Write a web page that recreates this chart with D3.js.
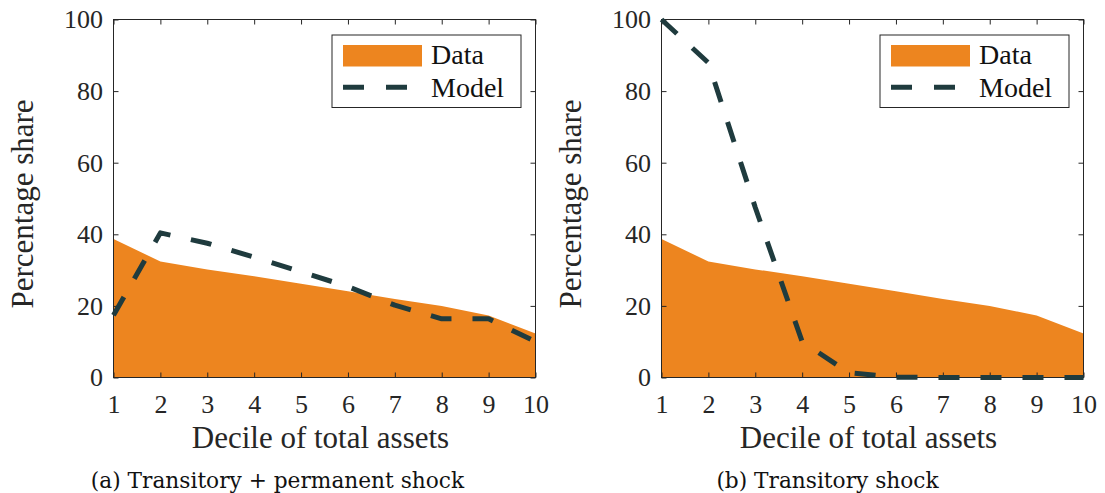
<!DOCTYPE html>
<html>
<head>
<meta charset="utf-8">
<script src="https://cdn.jsdelivr.net/npm/d3@7"></script>
<style>
  html, body { margin: 0; padding: 0; background: #fff; }
  svg { display: block; }
</style>
</head>
<body>
<svg id="fig" width="1105" height="493"></svg>
<script>
// Deciles of total assets (x axis)
const deciles = [1, 2, 3, 4, 5, 6, 7, 8, 9, 10];
// Observed percentage share by decile (shaded area, same in both panels)
const dataShare = [38.7, 32.4, 30.2, 28.3, 26.2, 24.1, 21.9, 20.0, 17.3, 12.3];
// Model share, transitory + permanent shock
const modelTransPerm = [17.4, 40.4, 37.5, 33.6, 29.5, 25.4, 20.2, 16.4, 16.4, 10.0];
// Model share, transitory shock only
const modelTrans = [100, 87.9, 47.5, 10.0, 1.3, 0.1, 0, 0, 0, 0];
// Axis ticks
const yTicks = [0, 20, 40, 60, 80, 100];
const xTicks = [1, 2, 3, 4, 5, 6, 7, 8, 9, 10];
// Series names and panel captions
const legendLabels = ["Data", "Model"];
const captions = ["(a) Transitory + permanent shock", "(b) Transitory shock"];

const ORANGE = "#ed851f";
const DARK = "#1f3b3e";
const AXIS = "#262626";
const SERIF = "'Liberation Serif', 'Times New Roman', serif";
const CAPTION_FONT = "'DejaVu Serif', serif";

const svg = d3.select("#fig");
const W = 422, H = 358;

function drawPanel(left, top, model, caption, panelCenter, titleX) {
  const g = svg.append("g").attr("transform", `translate(${left},${top})`);
  const x = d3.scaleLinear().domain([1, 10]).range([0, W]);
  const y = d3.scaleLinear().domain([0, 100]).range([H, 0]);

  // shaded data area
  const area = d3.area()
    .x((d, i) => x(deciles[i]))
    .y0(y(0))
    .y1(d => y(d));
  g.append("path").datum(dataShare)
    .attr("d", area)
    .attr("fill", ORANGE);

  // axes box with inward ticks
  const styleAxis = sel => {
    sel.attr("font-family", null).attr("font-size", null);
    sel.select(".domain").remove();
    sel.selectAll(".tick line").attr("stroke", AXIS);
    sel.selectAll("text").attr("fill", AXIS)
      .style("font-family", SERIF).style("font-size", "26px");
  };
  const xb = g.append("g").attr("transform", `translate(0,${H})`)
    .call(d3.axisBottom(x).tickValues(xTicks).tickSizeInner(-5).tickSizeOuter(0).tickPadding(0));
  styleAxis(xb);
  xb.selectAll("text").attr("dy", null).attr("y", 35.5);

  const yl = g.append("g")
    .call(d3.axisLeft(y).tickValues(yTicks).tickSizeInner(-5).tickSizeOuter(0).tickPadding(10.5));
  styleAxis(yl);

  const xt = g.append("g")
    .call(d3.axisTop(x).tickValues(xTicks).tickSizeInner(-5).tickSizeOuter(0).tickFormat(""));
  styleAxis(xt);
  const yr = g.append("g").attr("transform", `translate(${W},0)`)
    .call(d3.axisRight(y).tickValues(yTicks).tickSizeInner(-5).tickSizeOuter(0).tickFormat(""));
  styleAxis(yr);

  g.append("rect")
    .attr("x", 0).attr("y", 0).attr("width", W).attr("height", H)
    .attr("fill", "none").attr("stroke", AXIS).attr("stroke-width", 1);

  // model line
  const line = d3.line()
    .x((d, i) => x(deciles[i]))
    .y(d => y(d));
  g.append("path").datum(model)
    .attr("d", line)
    .attr("fill", "none")
    .attr("stroke", DARK)
    .attr("stroke-width", 5)
    .attr("stroke-dasharray", "21 21")
    .attr("stroke-linejoin", "round");

  // legend
  const lg = g.append("g").attr("transform", "translate(218.5,15.5)");
  lg.append("rect")
    .attr("width", 189).attr("height", 72.5)
    .attr("fill", "#fff").attr("stroke", AXIS).attr("stroke-width", 1);
  lg.append("rect")
    .attr("x", 11).attr("y", 10).attr("width", 79).attr("height", 21.5)
    .attr("fill", ORANGE);
  lg.append("line")
    .attr("x1", 11).attr("x2", 75).attr("y1", 52.3).attr("y2", 52.3)
    .attr("stroke", DARK).attr("stroke-width", 5).attr("stroke-dasharray", "21 22");
  lg.selectAll("text.lab").data(legendLabels).enter().append("text")
    .attr("class", "lab")
    .attr("x", 99).attr("y", (d, i) => i === 0 ? 29 : 61.5)
    .attr("fill", "#111")
    .style("font-family", SERIF).style("font-size", "28px")
    .text(d => d);

  // axis titles
  g.append("text")
    .attr("x", W / 2 - 4).attr("y", 70.5 + H)
    .attr("text-anchor", "middle").attr("fill", AXIS)
    .style("font-family", SERIF).style("font-size", "31px")
    .text("Decile of total assets");
  g.append("text")
    .attr("transform", `translate(${titleX - left},${204 - top}) rotate(-90)`)
    .attr("text-anchor", "middle").attr("fill", AXIS)
    .style("font-family", SERIF).style("font-size", "31px")
    .text("Percentage share");

  // caption
  svg.append("text")
    .attr("x", panelCenter).attr("y", 488)
    .attr("text-anchor", "middle").attr("fill", "#111")
    .style("font-family", CAPTION_FONT).style("font-size", "21.7px")
    .text(caption);
}

drawPanel(113.5, 19.5, modelTransPerm, captions[0], 277.5, 33);
drawPanel(661.5, 19.5, modelTrans, captions[1], 827.5, 581);
</script>
</body>
</html>
